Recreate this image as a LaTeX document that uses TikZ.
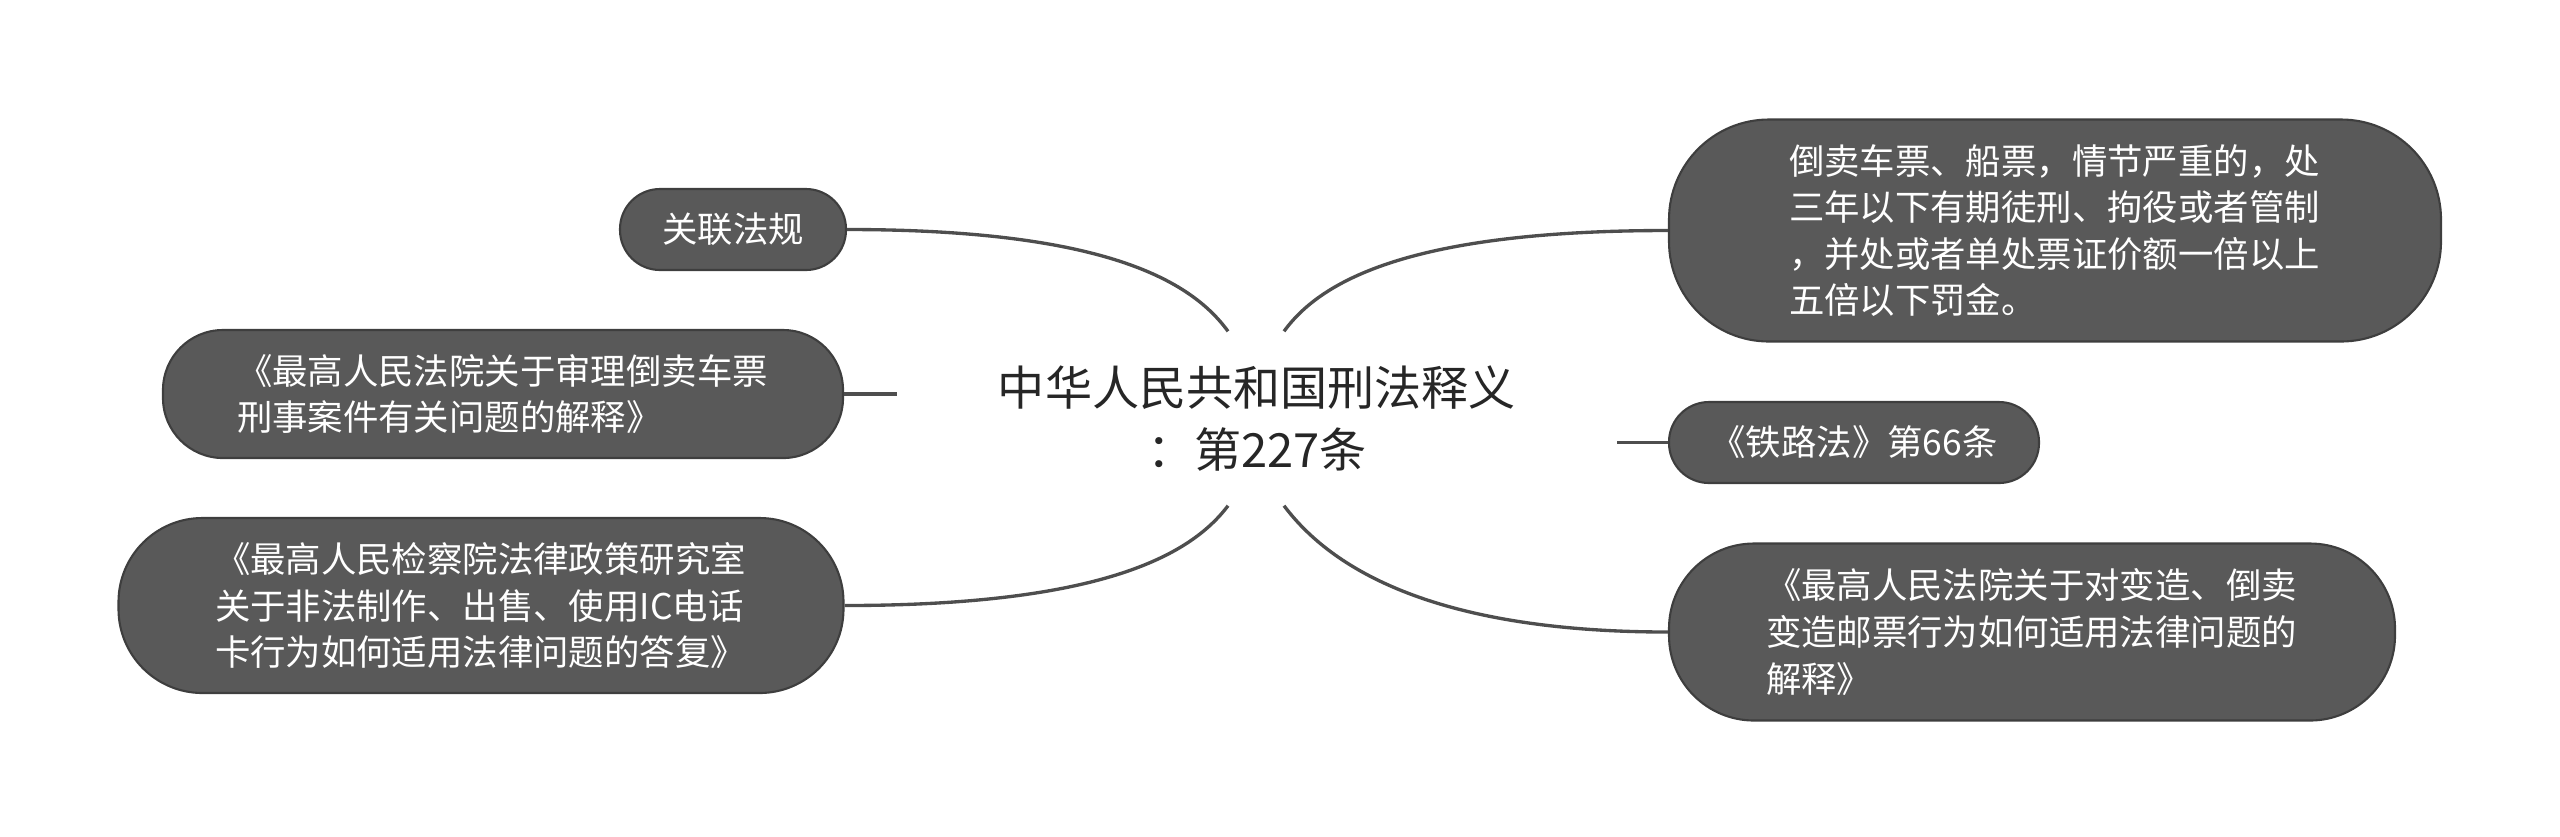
\documentclass[tikz,border=0pt]{standalone}
\usepackage{fontspec}
\setmainfont{Noto Sans CJK SC}
\definecolor{boxfill}{RGB}{89,89,89}
\definecolor{boxline}{RGB}{62,62,62}
\definecolor{linkgray}{RGB}{78,78,78}
\definecolor{titletext}{RGB}{38,38,38}
\tikzset{
    topic/.style={
           rectangle,
           fill=boxfill, draw=boxline, line width=0.6pt,
           text=white,
           inner sep=0pt,
           text centered,
           font=\fontsize{10.07pt}{13.24pt}\selectfont,
           },
    longtopic/.style={
           topic,
           align=left,
           text width=5.32cm,
           },
    roottopic/.style={
           inner sep=0pt,
           align=center,
           text=titletext,
           minimum width=7.18cm,
           minimum height=1.73cm,
           font=\fontsize{13.4pt}{17.4pt}\selectfont,
           },
}

\begin{document}
\begin{tikzpicture}[link/.style={draw=linkgray, line width=0.95pt}]
\useasboundingbox (0,0) rectangle (25.6,-8.36);
\node[roottopic, xshift=12.57cm, yshift=-4.185cm] (root) {中华人民共和国刑法释义\\：第227条};
\node[topic, xshift=7.33cm, yshift=-2.295cm, minimum width=2.26cm, minimum height=0.81cm, rounded corners=0.4cm] (law) {关联法规};
\node[longtopic, xshift=5.03cm, yshift=-3.94cm, minimum width=6.80cm, minimum height=1.28cm, rounded corners=0.6cm] (expl) {《最高人民法院关于审理倒卖车票\\刑事案件有关问题的解释》};
\node[longtopic, xshift=4.81cm, yshift=-6.055cm, minimum width=7.25cm, minimum height=1.75cm, rounded corners=0.84cm] (reply) {《最高人民检察院法律政策研究室\\关于非法制作、出售、使用IC电话\\卡行为如何适用法律问题的答复》};
\node[longtopic, xshift=20.55cm, yshift=-2.305cm, minimum width=7.72cm, minimum height=2.22cm, rounded corners=1.0cm] (clause) {倒卖车票、船票，情节严重的，处\\三年以下有期徒刑、拘役或者管制\\，并处或者单处票证价额一倍以上\\五倍以下罚金。};
\node[topic, xshift=18.54cm, yshift=-4.425cm, minimum width=3.70cm, minimum height=0.81cm, rounded corners=0.4cm] (rail) {《铁路法》第66条};
\node[longtopic, xshift=20.32cm, yshift=-6.32cm, minimum width=7.26cm, minimum height=1.77cm, rounded corners=0.85cm] (stamp) {《最高人民法院关于对变造、倒卖\\变造邮票行为如何适用法律问题的\\解释》};
 \path (law.east) edge[link, out=0, in=126, out distance=2.55cm, in distance=0.64cm] ([xshift=-0.29cm]root.north);
 \path (expl.east) edge[link] (expl.east -| root.west);
 \path (reply.east) edge[link, out=0, in=233, out distance=2.55cm, in distance=0.63cm] ([xshift=-0.29cm]root.south);
 \path ([xshift=0.27cm]root.north) edge[link, out=54, in=180, out distance=0.64cm, in distance=2.55cm] (clause.west);
 \path (rail.west) edge[link] (rail.west -| root.east);
 \path ([xshift=0.27cm]root.south) edge[link, out=-53, in=180, out distance=0.63cm, in distance=2.55cm] (stamp.west);
\end{tikzpicture}
\end{document}
